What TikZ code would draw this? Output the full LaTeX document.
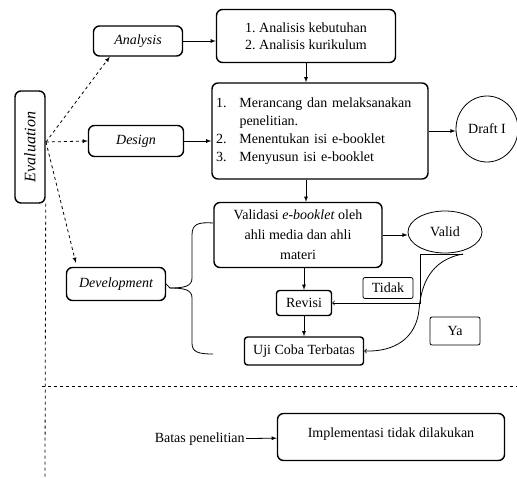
\documentclass[tikz,border=0pt]{standalone}
\usepackage{fontspec}
\setmainfont{Liberation Serif}
\usetikzlibrary{arrows,shapes.geometric,positioning}

\begin{document}
\begin{tikzpicture}[x=1pt,y=-1pt,>=latex,line width=0.8pt,
  every node/.style={font=\fontsize{14}{17}\selectfont},
  box/.style={draw,line width=1.4pt,rounded corners=6pt,inner sep=2pt,align=center},
  phase/.style={box,font=\fontsize{14}{17}\selectfont\itshape},
  oval/.style={draw,ellipse,line width=0.8pt,inner sep=1pt},
  tag/.style={draw,rounded corners=2pt,line width=0.8pt}]
  \useasboundingbox (0,0) rectangle (517,477);
  % ADD phases
  \node[phase,rotate=90,minimum width=112,minimum height=30,font=\fontsize{16}{18}\selectfont\itshape] (eval) at (30,147) {Evaluation};
  \node[phase,minimum width=89,minimum height=30] (ana) at (138,41) {Analysis};
  \node[phase,minimum width=95,minimum height=31] (des) at (136,141) {Design};
  \node[phase,minimum width=99,minimum height=33] (dev) at (116,284) {Development};
  \coordinate (ev) at (46,142);
  % steps
  \node[box,minimum width=179,minimum height=53,align=left] (1) at (306,36)
    {1.\ Analisis kebutuhan\\2.\ Analisis kurikulum};
  \node[box,minimum width=216,minimum height=96,text width=208,align=left] (2) at (320,131)
    {\begin{tabular}{@{}l@{\hspace{13pt}}l@{}}
      1. & Merancang dan melaksanakan\\[1pt]
         & penelitian.\\[1pt]
      2. & Menentukan isi e-booklet\\[1pt]
      3. & Menyusun isi e-booklet
     \end{tabular}};
  \node[oval,minimum width=62,minimum height=66] (draft) at (487,129) {Draft I};
  \node[box,minimum width=168,minimum height=65,font=\fontsize{14}{20}\selectfont] (3) at (298,235)
    {Validasi \textit{e-booklet} oleh\\ahli media dan ahli\\materi};
  \node[oval,minimum width=74,minimum height=42] (valid) at (445,232) {Valid};
  \node[box,minimum width=55,minimum height=25,rounded corners=3pt] (rev) at (304,303) {Revisi};
  \node[box,minimum width=119,minimum height=28,rounded corners=3pt] (uji) at (304,351) {Uji Coba Terbatas};
  \node[tag,minimum width=50,minimum height=21] (tidak) at (388,288) {Tidak};
  \node[tag,minimum width=50,minimum height=28] (ya) at (455,331) {Ya};
  \node[box,minimum width=227,minimum height=47,text depth=9pt] (imp) at (391,437) {Implementasi tidak dilakukan};
  \node[anchor=east,inner sep=1pt] (batas) at (246,439) {Batas penelitian};
  % evaluation lines
  \draw[->,dashed] (ev) -- ([xshift=17]ana.south west);
  \draw[->,dashed] (ev) -- (des.west);
  \draw[->,dashed] (ev) -- ([xshift=10,yshift=4]dev.north west);
  \draw[dashed] (eval.south west) -- (45,477);
  \draw[dashed] (42,386) -- (517,386);
  % flow
  \draw[->] (ana.east) -- (ana.east -| 1.west);
  \draw[->] (1.south) -- (1.south |- 2.north);
  \draw[->] (des.east) -- (des.east -| 2.west);
  \draw[->] (2.east) -- (2.east -| draft.west);
  \draw[->] (1.south |- 2.south) -- (1.south |- 3.north);
  \draw[->] (3.east) -- (3.east -| valid.west);
  \draw[->] (rev |- 3.south) -- (rev.north);
  \draw[->] (rev) -- (uji);
  \coordinate (vb) at (463,254);
  \draw[-to] (vb) -- ++(-43,0) |- (rev.east);
  \draw[-to] (vb) .. controls (430,260) and (421,285) .. (419,310)
    .. controls (416,338) and (395,352) .. (uji.east);
  % brace
  \draw (213,223) .. controls (198,222) and (192,224) .. (192,235) -- (192,278)
    .. controls (192,286) and (185,288) .. (170,288) -- (dev.east);
  \draw (170,288) .. controls (185,288) and (192,290) .. (192,298) -- (192,343)
    .. controls (192,352) and (198,354) .. (213,354);
  \draw[->] (batas) -- (imp);
\end{tikzpicture}
\end{document}
